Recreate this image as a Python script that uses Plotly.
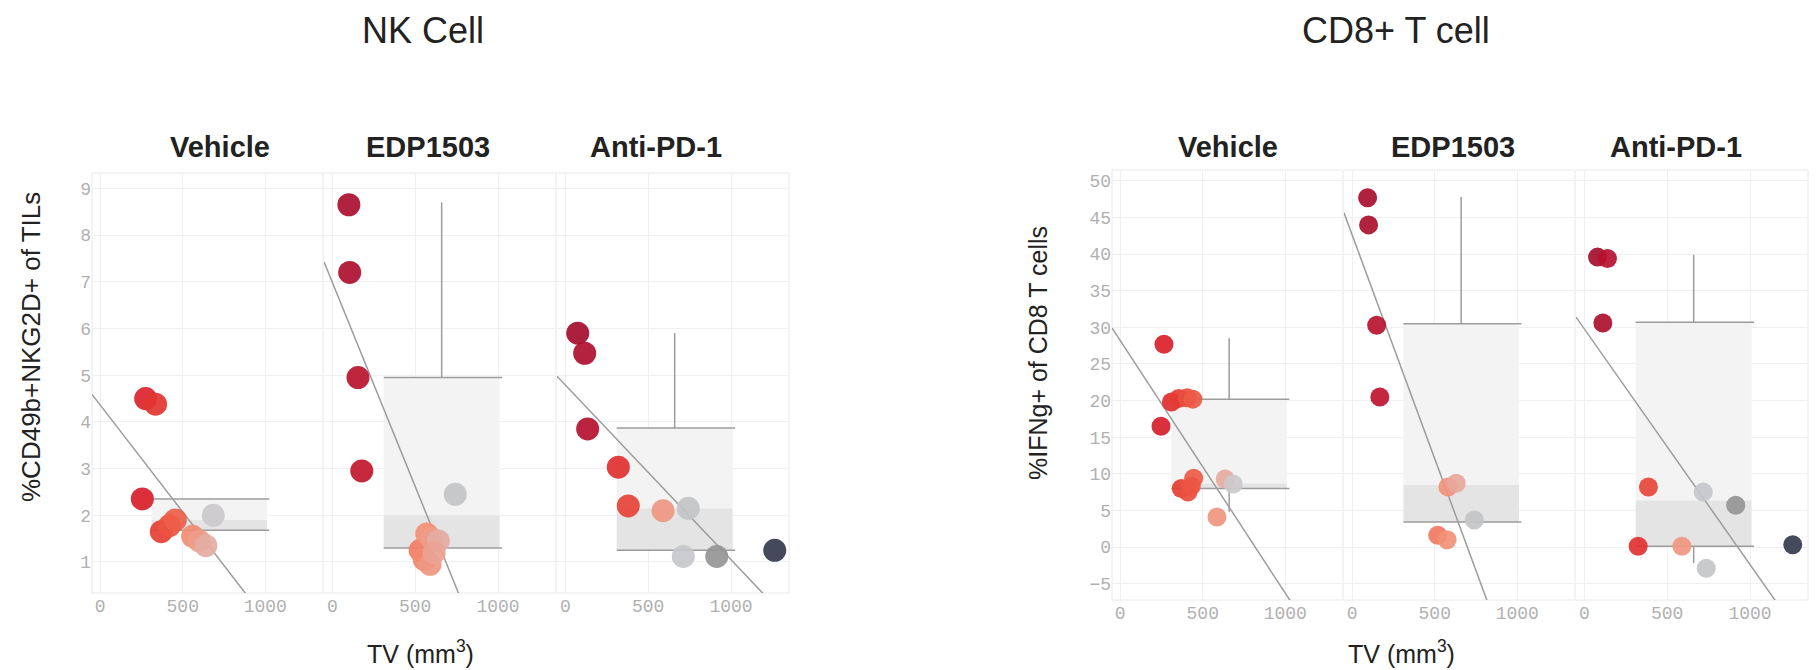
import plotly.graph_objects as go

W, H = 1816, 670

# ---------------- data ----------------
groups = ["Vehicle", "EDP1503", "Anti-PD-1"]
group_title_nk = "NK Cell"
group_title_cd8 = "CD8+ T cell"

# NK cell panels: TV (mm3) and %CD49b+NKG2D+ of TILs
nk_vehicle_tv = [275, 335, 255, 370, 420, 455, 560, 600, 640, 685]
nk_vehicle_pct = [4.5, 4.38, 2.35, 1.65, 1.78, 1.9, 1.55, 1.45, 1.35, 2.0]
nk_edp_tv = [100, 105, 155, 178, 742, 530, 570, 600, 640, 555, 590, 615]
nk_edp_pct = [8.65, 7.2, 4.95, 2.95, 2.45, 1.25, 1.6, 1.5, 1.45, 1.05, 0.95, 1.2]
nk_anti_tv = [75, 117, 135, 320, 380, 590, 742, 712, 914, 1264]
nk_anti_pct = [5.9, 5.47, 3.85, 3.03, 2.2, 2.1, 2.15, 1.12, 1.12, 1.25]

# CD8 T cell panels: TV (mm3) and %IFNg+ of CD8 T cells
cd8_vehicle_tv = [265, 247, 310, 355, 405, 440, 370, 410, 445, 430, 636, 685, 586]
cd8_vehicle_pct = [27.7, 16.5, 19.8, 20.3, 20.4, 20.2, 8.0, 7.5, 9.4, 8.3, 9.3, 8.6, 4.1]
cd8_edp_tv = [93, 99, 148, 167, 580, 630, 740, 518, 575]
cd8_edp_pct = [47.7, 44.0, 30.3, 20.5, 8.2, 8.7, 3.7, 1.6, 1.0]
cd8_anti_tv = [80, 140, 112, 387, 718, 914, 325, 589, 736, 1258]
cd8_anti_pct = [39.6, 39.4, 30.6, 8.2, 7.5, 5.7, 0.1, 0.1, -2.9, 0.3]

# box summaries per panel: [lower whisker, q1, median, q3, upper whisker]
nk_box_stats = [
    [1.68, 1.68, 1.9, 2.35, 2.35],
    [1.3, 1.3, 2.0, 4.95, 8.7],
    [1.25, 1.25, 2.15, 3.87, 5.9],
]
cd8_box_stats = [
    [4.8, 8.0, 8.7, 20.2, 28.5],
    [3.4, 3.4, 8.5, 30.5, 47.8],
    [-2.2, 0.1, 6.4, 30.7, 39.9],
]
box_center_tv = 660
box_width_tv = 700

# linear fits per panel: [intercept, slope]
nk_fits = [[4.36, -0.00458], [6.99, -0.00874], [4.79, -0.00374]]
cd8_fits = [[28.2, -0.0345], [42.6, -0.0611], [29.8, -0.0322]]

nk_ticks = [1, 2, 3, 4, 5, 6, 7, 8, 9]
cd8_ticks = [-5, 0, 5, 10, 15, 20, 25, 30, 35, 40, 45, 50]
tv_ticks = [0, 500, 1000]

# ---------------- style ----------------
colorscale = [
    [0.0, "#8e0a2a"], [0.1, "#b3102f"], [0.2, "#d91f2b"], [0.28, "#e63e33"],
    [0.36, "#ee634c"], [0.44, "#f39076"], [0.49, "#e6aba0"], [0.53, "#c9cbd0"],
    [0.62, "#bcbcbc"], [0.72, "#8d8d8d"], [0.85, "#5b606b"], [1.0, "#2b3246"],
]
grid_c = "#f0f0f0"
frame_c = "#e8e8e8"
line_c = "#9c9c9c"
tick_font = dict(family="Liberation Mono", size=18, color="#b0b0b0")

x_range = [-50, 1350]
nk_range = [0.336, 9.33]
cd8_range = [-7.24, 51.5]

# facet pixel boxes (left, right) and vertical extents (top, bottom)
nk_cols = [(92, 323), (324, 556), (557, 789)]
cd8_cols = [(1112, 1343), (1344, 1575), (1576, 1808)]
nk_tb = (173, 593)
cd8_tb = (170, 600)

fig = go.Figure()
layout = dict(
    template="none",
    width=W, height=H, margin=dict(l=0, r=0, t=0, b=0),
    paper_bgcolor="white", plot_bgcolor="white",
    showlegend=False, barmode="overlay",
    font=dict(family="Liberation Sans", color="#222"),
)
shapes = []

panels = [
    (nk_vehicle_tv, nk_vehicle_pct, nk_box_stats[0], nk_fits[0], nk_cols[0], nk_tb, nk_range, nk_ticks, 23, True),
    (nk_edp_tv, nk_edp_pct, nk_box_stats[1], nk_fits[1], nk_cols[1], nk_tb, nk_range, nk_ticks, 23, False),
    (nk_anti_tv, nk_anti_pct, nk_box_stats[2], nk_fits[2], nk_cols[2], nk_tb, nk_range, nk_ticks, 23, False),
    (cd8_vehicle_tv, cd8_vehicle_pct, cd8_box_stats[0], cd8_fits[0], cd8_cols[0], cd8_tb, cd8_range, cd8_ticks, 19, True),
    (cd8_edp_tv, cd8_edp_pct, cd8_box_stats[1], cd8_fits[1], cd8_cols[1], cd8_tb, cd8_range, cd8_ticks, 19, False),
    (cd8_anti_tv, cd8_anti_pct, cd8_box_stats[2], cd8_fits[2], cd8_cols[2], cd8_tb, cd8_range, cd8_ticks, 19, False),
]

for i, (tv, pct, bs, fit, cols, tb, yr, yt, msize, show_y) in enumerate(panels, start=1):
    key = "" if i == 1 else str(i)
    xa, ya = "x" + key, "y" + key
    lo, q1, med, q3, hi = bs
    # box bands (median-q1 darker, q3-median lighter)
    fig.add_trace(go.Bar(x=[box_center_tv], y=[med - q1], base=[q1], width=[box_width_tv],
                         marker=dict(color="#e4e4e4", line=dict(width=0)), xaxis=xa, yaxis=ya,
                         hoverinfo="skip"))
    fig.add_trace(go.Bar(x=[box_center_tv], y=[q3 - med], base=[med], width=[box_width_tv],
                         marker=dict(color="#f3f3f3", line=dict(width=0)), xaxis=xa, yaxis=ya,
                         hoverinfo="skip"))
    bl = box_center_tv - box_width_tv / 2
    br = box_center_tv + box_width_tv / 2 + 15
    fig.add_trace(go.Scatter(
        x=[bl, br, None, bl, br, None, box_center_tv, box_center_tv, None, box_center_tv, box_center_tv],
        y=[q3, q3, None, q1, q1, None, q3, hi, None, q1, lo],
        mode="lines", line=dict(color=line_c, width=1.5), xaxis=xa, yaxis=ya, hoverinfo="skip"))
    # linear fit
    a, b = fit
    fig.add_trace(go.Scatter(x=[x_range[0], x_range[1]], y=[a + b * x_range[0], a + b * x_range[1]],
                             mode="lines", line=dict(color=line_c, width=1.5), xaxis=xa, yaxis=ya))
    # points
    fig.add_trace(go.Scatter(x=tv, y=pct, mode="markers", xaxis=xa, yaxis=ya,
                             marker=dict(size=msize, color=tv, colorscale=colorscale, cmin=0, cmax=1300,
                                         opacity=0.92, line=dict(width=0)),
                             cliponaxis=False))
    l, r = cols
    top, bot = tb
    layout["xaxis" + key] = dict(
        domain=[l / W, r / W], anchor=ya, range=x_range, tickvals=tv_ticks,
        showgrid=True, gridcolor=grid_c, gridwidth=1, zeroline=False, showline=False,
        tickfont=tick_font, ticks="", fixedrange=True)
    layout["yaxis" + key] = dict(
        domain=[1 - bot / H, 1 - top / H], anchor=xa, range=yr, tickvals=yt,
        showgrid=True, gridcolor=grid_c, gridwidth=1, zeroline=False, showline=False,
        tickfont=tick_font, showticklabels=show_y, ticks="", fixedrange=True)
    # frame: top, bottom, right for every facet; left only for the first of a group
    fr = dict(type="line", xref=f"{xa} domain", yref=f"{ya} domain",
              line=dict(color=frame_c, width=1), layer="below")
    shapes.append(dict(fr, x0=0, x1=1, y0=1, y1=1))
    shapes.append(dict(fr, x0=0, x1=1, y0=0, y1=0))
    shapes.append(dict(fr, x0=1, x1=1, y0=0, y1=1))
    if show_y:
        shapes.append(dict(fr, x0=0, x1=0, y0=0, y1=1))

ann = []
def txt(text, x, y, size, bold=False, angle=0, color="#222"):
    ann.append(dict(text=f"<b>{text}</b>" if bold else text, x=x / W, y=1 - y / H, xref="paper",
                    yref="paper", showarrow=False, textangle=angle, xanchor="center", yanchor="middle",
                    font=dict(family="Liberation Sans", size=size, color=color)))

txt(group_title_nk, 423, 31, 36)
txt(group_title_cd8, 1396, 31, 36)
for name, xc in zip(groups, [220, 428, 656]):
    txt(name, xc, 147, 29, bold=True)
for name, xc in zip(groups, [1228, 1453, 1676]):
    txt(name, xc, 147, 29, bold=True)
txt("%CD49b+NKG2D+ of TILs", 31, 347, 26, angle=-90)
txt("%IFNg+ of CD8 T cells", 1038, 353, 25, angle=-90)
txt("TV (mm<sup>3</sup>)", 420, 652, 25)
txt("TV (mm<sup>3</sup>)", 1401, 652, 25)
layout["annotations"] = ann
layout["shapes"] = shapes

fig.update_layout(**layout)
fig.write_html("out.html")
